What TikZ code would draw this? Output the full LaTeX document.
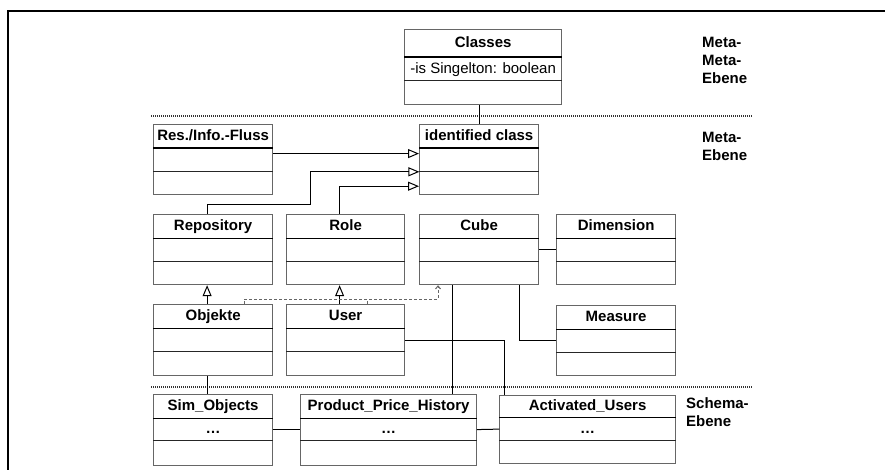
\documentclass[tikz,border=0pt]{standalone}
\usepackage{fontspec}
\setmainfont{Liberation Sans}
\usetikzlibrary{positioning,arrows.meta}

\tikzset{
	classframe/.style={draw=black!60, line width=1.2pt, inner sep=0pt, anchor=north west},
	classtitle/.style={inner sep=0pt, font=\fontsize{15pt}{18pt}\selectfont\bfseries, text height=11pt, text depth=3pt},
	classpart/.style={inner sep=0pt, font=\fontsize{15pt}{18pt}\selectfont, text height=11pt, text depth=3pt},
	titlerule/.style={line width=1.8pt, black},
	partrule/.style={line width=1pt, black!85},
	assoc/.style={line width=1pt, black},
	gen/.style={assoc, -{Triangle[open, length=11pt, width=9pt]}},
	dep/.style={line width=1pt, black!60, dash pattern=on 3pt off 2pt},
	layer/.style={font=\fontsize{15pt}{18pt}\selectfont\bfseries, align=left, inner sep=0pt, anchor=north west},
	levelline/.style={line width=1.2pt, black!80, dash pattern=on 1pt off 1pt}
}

% name, top left, width, heights of the three parts, title, attribute
\newcommand{\umlclass}[8]{%
	\node[classframe, minimum width=#3pt, minimum height=#4pt+#5pt+#6pt] (#1) at (#2) {};
	\node[classtitle, minimum width=#3pt, minimum height=#4pt, anchor=north] (#1-t) at (#1.north) {#7};
	\node[classpart, minimum width=#3pt, minimum height=#5pt, below=0pt of #1-t] (#1-a) {#8};
	\node[classpart, minimum width=#3pt, minimum height=#6pt, below=0pt of #1-a] (#1-o) {};
	\draw[titlerule] (#1-t.south west) -- (#1-t.south east);
	\draw[partrule] (#1-a.south west) -- (#1-a.south east);
}

\begin{document}
\begin{tikzpicture}[x=1pt, y=-1pt]
				% Page and frame
				\fill[white] (0,0) rectangle (885,470);
				\useasboundingbox (0,0) rectangle (885,470);
				\draw[line width=2pt] (8,475) -- (8,11) -- (890,11);

				% Level separators
				\draw[levelline] (151,116) -- (752,116);
				\draw[levelline] (151,387) -- (752,387);

				% Level labels
				\node[layer] (lmetameta) at (702,37) {Meta-\\Meta-\\Ebene};
				\node[layer] (lmeta) at (702,132) {Meta-\\Ebene};
				\node[layer] (lschema) at (686,397) {Schema-\\Ebene};

				% Meta-Meta-Ebene
				\umlclass{classes}{404,29}{157}{28}{23}{24}{Classes}{-is Singelton: boolean}

				% Meta-Ebene
				\umlclass{resinfo}{153,124}{119}{24}{23}{23}{Res./Info.-Fluss}{}
				\umlclass{idclass}{419,124}{119}{24}{23}{23}{identified class}{}
				\umlclass{repo}{153,214}{119}{24}{23}{23}{Repository}{}
				\umlclass{role}{286,214}{118}{24}{23}{23}{Role}{}
				\umlclass{cube}{419,214}{119}{24}{23}{23}{Cube}{}
				\umlclass{dim}{556,214}{119}{24}{23}{23}{Dimension}{}
				\umlclass{obj}{153,304}{119}{24}{23}{24}{Objekte}{}
				\umlclass{user}{286,304}{118}{24}{23}{24}{User}{}
				\umlclass{meas}{556,305}{119}{24}{23}{23}{Measure}{}

				% Schema-Ebene
				\umlclass{sim}{153,394}{119}{24}{22}{25}{Sim\_Objects}{\textbf{…}}
				\umlclass{pph}{300,394}{176}{24}{22}{25}{Product\_Price\_History}{\textbf{…}}
				\umlclass{actusers}{499,395}{176}{22}{23}{23}{Activated\_Users}{\textbf{…}}

				% Instance of
				\draw[assoc] (idclass.north) -- (idclass.north |- classes.south);

				% Generalisations
				\coordinate (resout) at ([yshift=6pt]resinfo.east);
				\draw[gen] (resout) -- (resout -| idclass.west);
				\draw[gen] ([xshift=-6pt]repo.north) -- ++(0,-9) -| ([xshift=-109pt]idclass-a.south west) -- (idclass-a.south west);
				\draw[gen] ([xshift=-6pt]role.north) |- ([yshift=9pt]idclass.south west);
				\draw[gen] ([xshift=-6pt]obj.north) -- ([xshift=-6pt]repo.south);
				\draw[gen] ([xshift=-6pt]user.north) -- ([xshift=-6pt]role.south);

				% Dependencies on Cube
				\draw[dep, -{Straight Barb[length=3pt, width=5pt]}] ([xshift=31pt]obj.north) -- ++(0,-5) -| ([xshift=19pt]cube.south west);
				\draw[dep] ([xshift=22pt]user.north) -- ++(0,-5);

				% Associations
				\draw[assoc] (cube.east) -- (dim.west);
				\coordinate (cubefoot) at ([xshift=33pt]cube.south west);
				\draw[assoc] (cubefoot) -- (cubefoot |- pph.north);
				\draw[assoc] ([xshift=-20pt]cube.south east) |- (meas.west);
				\draw[assoc] (user.east) -| ([xshift=5pt]actusers.north west);
				\draw[assoc] ([xshift=-6pt]obj.south) -- ([xshift=-6pt]sim.north);
				\draw[assoc] (sim-a.east) -- (pph-a.west);
				\draw[assoc] (pph-a.east) -- (actusers-a.west);
\end{tikzpicture}
\end{document}
